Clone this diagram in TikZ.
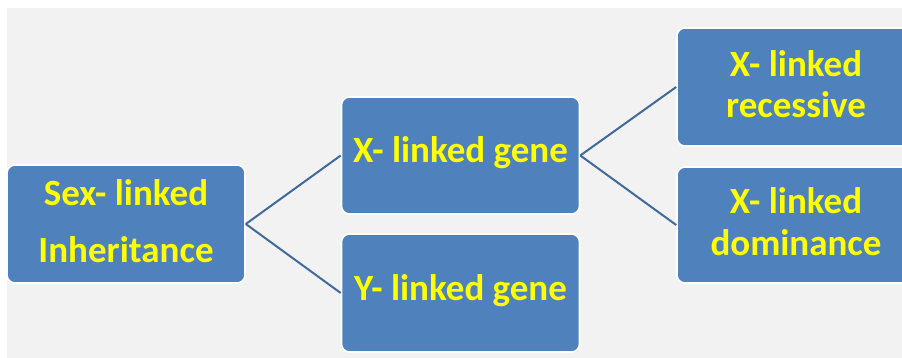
\documentclass[tikz,border=0pt]{standalone}
\usepackage{fontspec}
\setmainfont{Carlito}
\definecolor{bgGray}{HTML}{F2F2F2}
\definecolor{boxBlue}{HTML}{4F81BD}
\definecolor{linkBlue}{HTML}{41699A}
\definecolor{labelYellow}{HTML}{FFFF00}
\tikzset{
  box/.style={rectangle, rounded corners=8pt, draw=white, line width=1.6pt,
    fill=boxBlue, text=labelYellow, font=\bfseries, align=center,
    minimum width=238pt, inner sep=0pt},
  link/.style={draw=linkBlue, line width=2pt}
}
\begin{document}
\begin{tikzpicture}[x=1pt,y=-1pt]
  \useasboundingbox (0,0) rectangle (902,358);
  \fill[white] (0,0) rectangle (902,358);
  \fill[bgGray] (7,8) rectangle (902,358);

  % root
  \node[box, minimum height=118pt, text depth=6pt,
        font=\bfseries\fontsize{37}{57}\selectfont]
    (root) at (126,224) {Sex- linked\\Inheritance};

  % second level
  \node[box, minimum height=117pt, text depth=11pt,
        font=\bfseries\fontsize{37}{43}\selectfont]
    (xgene) at (460.5,155.5) {X- linked gene};
  \node[box, minimum height=118pt, text depth=11pt,
        font=\bfseries\fontsize{37}{43}\selectfont]
    (ygene) at (460.5,293) {Y- linked gene};

  % third level
  \node[box, minimum height=118pt, text depth=6pt,
        font=\bfseries\fontsize{37}{41}\selectfont]
    (xrec) at (796,87) {X- linked\\recessive};
  \node[box, minimum height=116pt, text depth=6pt,
        font=\bfseries\fontsize{37}{42}\selectfont]
    (xdom) at (796,225) {X- linked\\dominance};

  % connectors
  \draw[link] (root.east) -- (xgene.west);
  \draw[link] (root.east) -- (ygene.west);
  \draw[link] (xgene.east) -- (xrec.west);
  \draw[link] (xgene.east) -- (xdom.west);
\end{tikzpicture}
\end{document}
